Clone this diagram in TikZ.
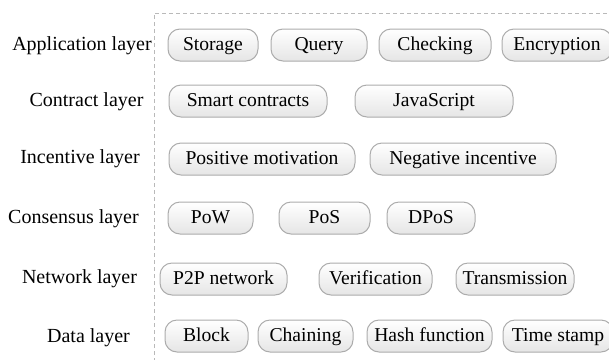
\documentclass[tikz,border=0pt]{standalone}
\usepackage{fontspec}
\setmainfont{Liberation Serif}
\begin{document}
\begin{tikzpicture}[x=0.5pt,y=-0.5pt,
  layerlabel/.style={font=\fontsize{10}{12}\selectfont, inner sep=0pt, anchor=center,
    text height=6.8pt, text depth=1.6pt},
  item/.style={draw=gray!65, line width=0.5pt, rounded corners=6pt,
    top color=white, bottom color=gray!20, minimum height=16pt, inner sep=0pt,
    text height=6.8pt, text depth=1.6pt,
    font=\fontsize{9.8}{12}\selectfont},
  guide/.style={draw=gray!55, line width=0.5pt, dash pattern=on 2pt off 1.5pt}]
\useasboundingbox (0,0) rectangle (609,359);

% dashed frame on top and left of the component area
\coordinate (frameBL) at (154,362);
\coordinate (frameTL) at (154,13);
\coordinate (frameTR) at (612,13);
\draw[guide] (frameBL) -- (frameTL) -- (frameTR);

% layer names
\node[layerlabel] (lApp)  at (82,45)   {Application layer};
\node[layerlabel] (lCon)  at (86.5,101) {Contract layer};
\node[layerlabel] (lInc)  at (80,158)  {Incentive layer};
\node[layerlabel] (lCons) at (73.5,218) {Consensus layer};
\node[layerlabel] (lNet)  at (79.5,278) {Network layer};
\node[layerlabel] (lData) at (88.5,337) {Data layer};

% application layer
\node[item, minimum width=45pt]   (storage)  at (213,45)   {Storage};
\node[item, minimum width=48pt]   (query)    at (319,45)   {Query};
\node[item, minimum width=56pt]   (checking) at (435,45)   {Checking};
\node[item, minimum width=55pt]   (encrypt)  at (557,45)   {Encryption};

% contract layer
\node[item, minimum width=79pt]   (smart)    at (248,101)  {Smart contracts};
\node[item, minimum width=79pt]   (js)       at (434,101)  {JavaScript};

% incentive layer
\node[item, minimum width=93pt]   (posmot)   at (262,159)  {Positive motivation};
\node[item, minimum width=93pt]   (neginc)   at (463,159)  {Negative incentive};

% consensus layer
\node[item, minimum width=42.5pt] (pow)      at (210.5,218) {PoW};
\node[item, minimum width=45.5pt] (pos)      at (324.5,218) {PoS};
\node[item, minimum width=44pt]   (dpos)     at (431,218)  {DPoS};

% network layer
\node[item, minimum width=63.5pt] (p2p)      at (223.5,279) {P2P network};
\node[item, minimum width=56.5pt] (verif)    at (375.5,279) {Verification};
\node[item, minimum width=59pt]   (trans)    at (515,279)  {Transmission};

% data layer
\node[item, minimum width=41.5pt] (block)    at (206.5,336) {Block};
\node[item, minimum width=47.5pt] (chain)    at (305.5,336) {Chaining};
\node[item, minimum width=62.5pt] (hash)     at (429.5,336) {Hash function};
\node[item, minimum width=55pt]   (stamp)    at (558,336)  {Time stamp};
\end{tikzpicture}
\end{document}
